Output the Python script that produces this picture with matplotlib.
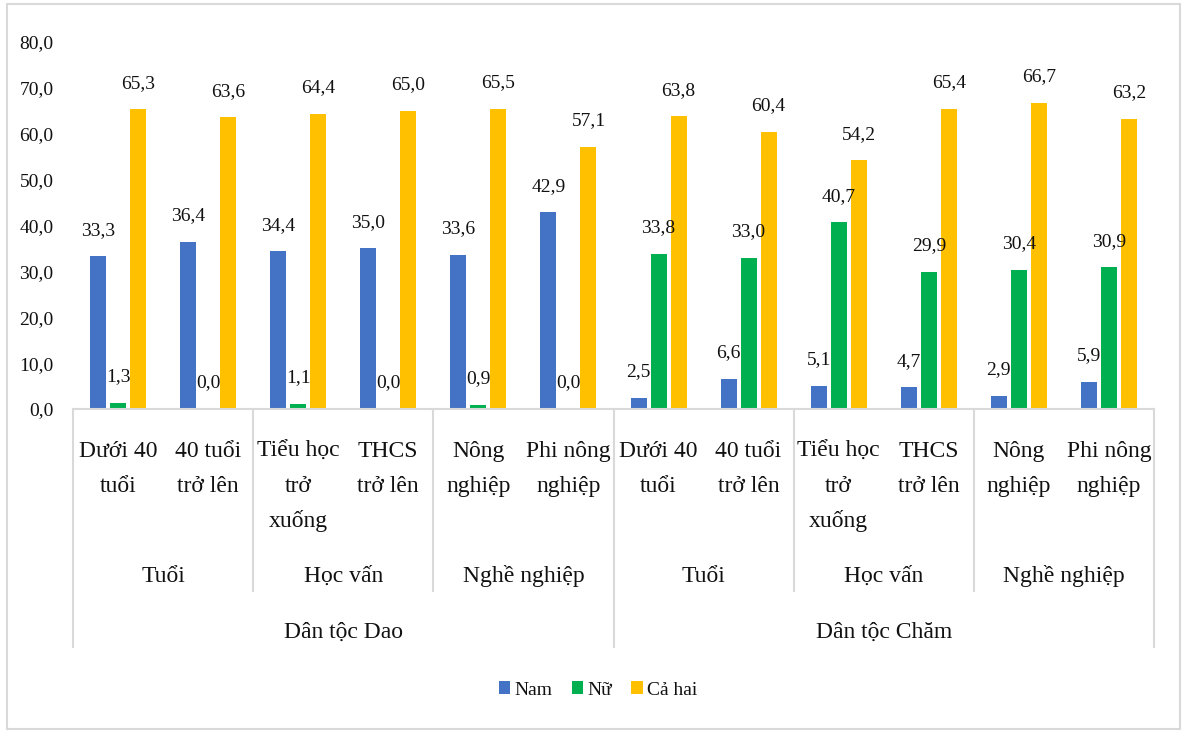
import matplotlib
matplotlib.use("Agg")
import matplotlib.pyplot as plt
from matplotlib.patches import Rectangle

W, H = 1182, 731

categories = ["Dưới 40\ntuổi", "40 tuổi\ntrở lên", "Tiểu học\ntrở\nxuống",
              "THCS\ntrở lên", "Nông\nnghiệp", "Phi nông\nnghiệp"] * 2
groups = ["Tuổi", "Học vấn", "Nghề nghiệp"] * 2
ethnic = ["Dân tộc Dao", "Dân tộc Chăm"]

nam = [33.3, 36.4, 34.4, 35.0, 33.6, 42.9, 2.5, 6.6, 5.1, 4.7, 2.9, 5.9]
nu = [1.3, 0.0, 1.1, 0.0, 0.9, 0.0, 33.8, 33.0, 40.7, 29.9, 30.4, 30.9]
ca_hai = [65.3, 63.6, 64.4, 65.0, 65.5, 57.1, 63.8, 60.4, 54.2, 65.4, 66.7, 63.2]

series = [("Nam", nam, "#4472C4"), ("Nữ", nu, "#00B050"), ("Cả hai", ca_hai, "#FFC000")]

plt.rcParams['font.family'] = ['Liberation Serif', 'DejaVu Serif']
txt_color = "#111111"
line_color = "#D9D9D9"

fig = plt.figure(figsize=(W / 100, H / 100), dpi=100)
# plot area in pixels: x 73..1154, y 42 (80) .. 409 (0)
ax_left, ax_right, ax_top, ax_bot = 73, 1154, 42, 409
ax = fig.add_axes([ax_left / W, 1 - ax_bot / H, (ax_right - ax_left) / W, (ax_bot - ax_top) / H])
ax_h = ax_bot - ax_top

n = len(categories)
x = list(range(n))
bw = 16 / 90
step = 20 / 90
for i, (name, vals, col) in enumerate(series):
    pos = [xi + (i - 1) * step for xi in x]
    ax.bar(pos, vals, width=bw, color=col, label=name, zorder=2)
    for p, v in zip(pos, vals):
        ax.annotate(f"{v:.1f}".replace(".", ","), xy=(p, v), xytext=(0, 26),
                    textcoords="offset pixels", ha="center", va="center",
                    fontsize=14, color=txt_color)

ax.set_xlim(-0.5, n - 0.5)
ax.set_ylim(0, 80)
ax.set_yticks(range(0, 81, 10))
ax.set_yticklabels([f"{t},0" for t in range(0, 81, 10)], fontsize=14, color=txt_color)
ax.tick_params(axis="y", length=0, pad=14)
ax.set_xticks([])
for s in ["top", "right", "left"]:
    ax.spines[s].set_visible(False)
ax.spines["bottom"].set_color(line_color)
ax.spines["bottom"].set_linewidth(1.5)

xt = ax.get_xaxis_transform()

# category labels, one line at a time (baseline offsets below the axis)
for xi, lab in zip(x, categories):
    for j, line in enumerate(lab.split("\n")):
        ax.annotate(line, xy=(xi, 0), xycoords=xt, xytext=(0, -(48 + 35 * j)),
                    textcoords="offset pixels", ha="center", va="baseline",
                    fontsize=17, color=txt_color)

for g, lab in enumerate(groups):
    ax.annotate(lab, xy=(2 * g + 0.5, 0), xycoords=xt, xytext=(0, -173),
                textcoords="offset pixels", ha="center", va="baseline",
                fontsize=17, color=txt_color)

for e, lab in enumerate(ethnic):
    ax.annotate(lab, xy=(6 * e + 2.5, 0), xycoords=xt, xytext=(0, -229),
                textcoords="offset pixels", ha="center", va="baseline",
                fontsize=17, color=txt_color)

# separators
for xs in [1.5, 3.5, 7.5, 9.5]:
    ax.plot([xs, xs], [0, -(591 - ax_bot) / ax_h], transform=xt, color=line_color,
            lw=1.5, clip_on=False)
for xs in [-0.5, 5.5, 11.5]:
    ax.plot([xs, xs], [0, -(647 - ax_bot) / ax_h], transform=xt, color=line_color,
            lw=1.5, clip_on=False)

leg = fig.legend(loc="center", bbox_to_anchor=(598 / W, 1 - 690 / H), ncol=3,
                 frameon=False, fontsize=14, handlelength=0.6, handleheight=0.6,
                 handletextpad=0.2, columnspacing=1.0)
for t in leg.get_texts():
    t.set_color(txt_color)

fig.patches.append(Rectangle((7 / W, 1 - 729 / H), (1180 - 7) / W, (729 - 4) / H,
                             transform=fig.transFigure, fill=False, ec=line_color, lw=1.5))

fig.savefig("out.png", dpi=100)
